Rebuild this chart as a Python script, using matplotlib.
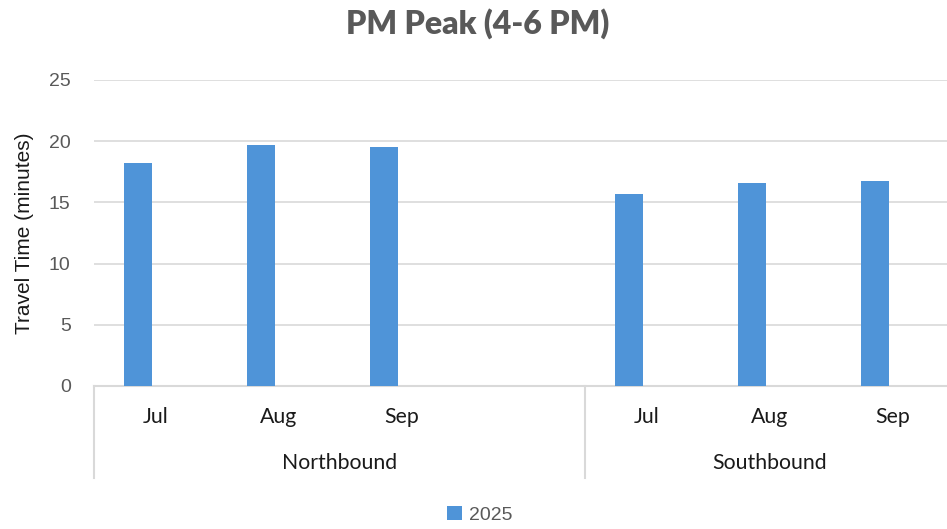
import matplotlib.pyplot as plt
import matplotlib.transforms as mtransforms
import numpy as np

# Datos
groups = ["Northbound", "Southbound"]
months_nb = ["Jul", "Aug", "Sep", ""]
months_sb = ["Jul", "Aug", "Sep"]
pm_2025_nb = [18.2, 19.65, 19.55, np.nan]
pm_2025_sb = [15.7, 16.6, 16.75]
series_name = "2025"

labels = months_nb + months_sb
values = pm_2025_nb + pm_2025_sb
x = np.arange(len(labels))

bar_color = "#4f94d8"
grid_color = "#d9d9d9"
grey_text = "#595959"

fig = plt.figure(figsize=(9.47, 5.29), dpi=100)
ax = fig.add_axes([94.3 / 947, 143 / 529, 859.3 / 947, 306 / 529])

ax.bar(x - 0.143, values, width=0.228, color=bar_color, label=series_name, zorder=3)

ax.set_xlim(-0.5, len(labels) - 0.5)
ax.set_ylim(0, 25)
ax.set_yticks([0, 5, 10, 15, 20, 25])
ax.yaxis.grid(True, color=grid_color, linewidth=1.2, zorder=0)
ax.set_axisbelow(True)
ax.tick_params(axis="y", length=0, pad=17, labelsize=14, labelcolor=grey_text)
ax.set_xticks([])
for s in ["top", "right", "left"]:
    ax.spines[s].set_visible(False)
ax.spines["bottom"].set_color(grid_color)
ax.spines["bottom"].set_linewidth(1.5)
for lab in ax.get_yticklabels():
    lab.set_fontfamily("Liberation Sans")

# Eje de categorias con dos niveles
trans = mtransforms.blended_transform_factory(ax.transData, ax.transAxes)
for xi, lab in zip(x, labels):
    ax.text(xi, -0.1003, lab, transform=trans, ha="center", va="center",
            fontsize=15.3, family="Lato", color="#1a1a1a")

bounds = [-0.5, len(months_nb) - 0.5, len(labels) - 0.5]
for b in bounds:
    ax.plot([b, b], [0, -0.3007], transform=trans, color=grid_color,
            linewidth=1.5, clip_on=False)
for g, lo, hi in zip(groups, bounds[:-1], bounds[1:]):
    ax.text((lo + hi) / 2, -0.2516, g, transform=trans, ha="center", va="center",
            fontsize=15.3, family="Lato", color="#1a1a1a")

# Titulo, etiqueta y leyenda
fig.text(477.5 / 947, 1 - 24 / 529, "PM Peak (4-6 PM)", ha="center", va="center",
         fontsize=23, fontweight="heavy", family="Lato", color=grey_text)
fig.text(25 / 947, 1 - 233.5 / 529, "Travel Time (minutes)", rotation=90,
         ha="center", va="center", fontsize=15, family="Liberation Sans", color="#1a1a1a")
leg = fig.legend(loc="center", bbox_to_anchor=(480 / 947, 1 - 515 / 529), frameon=False,
                 handlelength=0.75, handleheight=0.75, handletextpad=0.4,
                 prop={"family": "Liberation Sans", "size": 14})
for t in leg.get_texts():
    t.set_color(grey_text)

fig.savefig("out.png", dpi=100)
